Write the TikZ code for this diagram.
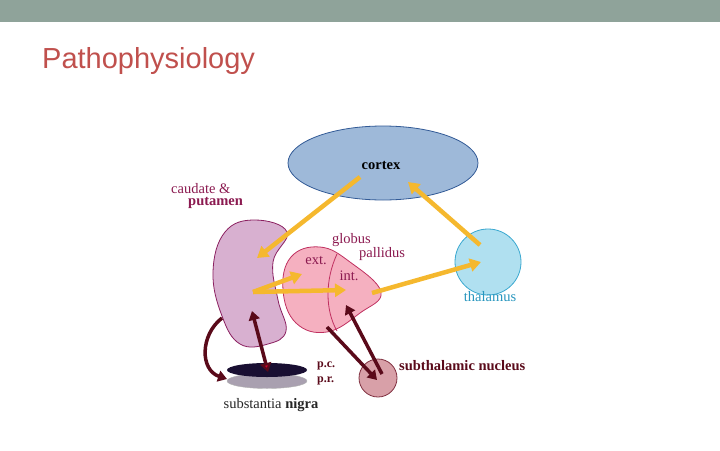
\documentclass[tikz,border=0pt]{standalone}
\usepackage{fontspec}
\setmainfont{Liberation Serif}
\newfontfamily\titlefont{Liberation Sans}
\usetikzlibrary{arrows.meta,shapes.geometric}
\definecolor{bar}{HTML}{8FA39A}
\definecolor{ttl}{HTML}{C0504D}
\definecolor{yel}{HTML}{F5B82E}
\definecolor{mar}{HTML}{5A0A1A}
\definecolor{lab}{HTML}{8B1A50}
\tikzset{
 ya/.style={draw=yel,line width=4.5pt,-{Triangle[length=11pt,width=13pt]}},
 ma/.style={draw=mar,line width=3.5pt,-{Triangle[length=9pt,width=11pt]}},
 lbl/.style={font=\bfseries\fontsize{14.5}{14.5}\selectfont,inner sep=0pt}
}
\begin{document}
\begin{tikzpicture}[x=1pt,y=-1pt]
\useasboundingbox (0,0) rectangle (720,450);
\fill[bar] (0,0) rectangle (720,22);
\node[anchor=west,text=ttl,font=\titlefont\fontsize{29}{29}\selectfont,inner sep=0pt] (title) at (42,61) {Pathophysiology};
% cortex
\node[ellipse,draw={rgb,255:red,50;green,90;blue,150},fill={rgb,255:red,158;green,185;blue,217},line width=0.8pt,minimum width=190pt,minimum height=74pt,inner sep=0pt] (cortex) at (383,163) {};
\node[lbl] (ctxt) at (381,165) {cortex};
% thalamus
\node[circle,draw={rgb,255:red,58;green,168;blue,208},fill={rgb,255:red,176;green,224;blue,240},line width=0.8pt,minimum size=66pt,inner sep=0pt] (thal) at (488,262) {};
\node[lbl,font=\fontsize{14.5}{14.5}\selectfont,text={rgb,255:red,40;green,150;blue,190}] (thaltxt) at (490,297) {thalamus};
% caudate
\draw[draw={rgb,255:red,139;green,32;blue,96},fill={rgb,255:red,216;green,176;blue,208},line width=0.8pt]
 plot[smooth cycle,tension=0.7] coordinates {(225,232) (255,220) (287,232) (273,262) (278,300) (286,331) (268,344) (240,344) (222,316) (213,272)};
\node[lbl,font=\fontsize{14.5}{14.5}\selectfont,text=lab,anchor=west] (cau1) at (171,189) {caudate \&};
\node[lbl,text=lab,anchor=west] (cau2) at (188,203) {putamen};
% globus pallidus
\draw[draw={rgb,255:red,192;green,48;blue,96},fill={rgb,255:red,245;green,176;blue,192},line width=0.8pt]
 plot[smooth cycle,tension=0.7] coordinates {(291,257) (320,247) (350,262) (381,292) (360,313) (327,332) (296,323) (283,290)};
\draw[draw={rgb,255:red,192;green,48;blue,96},line width=0.8pt] (337,254) .. controls (325,280) and (325,310) .. (337,331);
\node[lbl,font=\fontsize{14.5}{14.5}\selectfont,text=lab,anchor=west] (gp1) at (332,240) {globus};
\node[lbl,font=\fontsize{14.5}{14.5}\selectfont,text=lab,anchor=west] (gp2) at (359,254) {pallidus};
\node[lbl,font=\fontsize{14.5}{14.5}\selectfont,text=lab] (ext) at (316,261) {ext.};
\node[lbl,font=\fontsize{14.5}{14.5}\selectfont,text=lab] (int) at (349,276) {int.};
% substantia nigra
\node[ellipse,draw=gray!60,fill={rgb,255:red,169;green,160;blue,176},minimum width=80pt,minimum height=15pt,inner sep=0pt] (pr) at (267,381) {};
\node[ellipse,fill={rgb,255:red,25;green,15;blue,50},minimum width=80pt,minimum height=14pt,inner sep=0pt] (pc) at (267,370) {};
\node[lbl,anchor=west,text=mar,font=\bfseries\fontsize{12}{12}\selectfont] (pctxt) at (317,366) {p.c.};
\node[lbl,anchor=west,text=mar,font=\bfseries\fontsize{12}{12}\selectfont] (prtxt) at (317,381) {p.r.};
\node[lbl,font=\fontsize{14.5}{14.5}\selectfont,text=black!85] (sntxt) at (271,405) {substantia \textbf{nigra}};
% STN
\node[circle,draw={rgb,255:red,128;green,48;blue,64},fill={rgb,255:red,216;green,160;blue,168},line width=0.8pt,minimum size=38pt,inner sep=0pt] (stn) at (378,378) {};
\node[lbl,anchor=west,text=mar] (stntxt) at (399,366) {subthalamic nucleus};
% coordinates
\coordinate (cA) at (360,177);
\coordinate (cauIn) at (257,258);
\coordinate (thA) at (480,245);
\coordinate (cxIn) at (408,182);
\coordinate (cauO) at (253,292);
\coordinate (extIn) at (302,274);
\coordinate (intIn) at (346,290);
\coordinate (intO) at (372,293);
\coordinate (thIn) at (481,262);
\coordinate (cauB) at (222,318);
\coordinate (snL) at (227,379);
\coordinate (snC) at (268,372);
\coordinate (cauC) at (252,311);
\coordinate (gpB) at (327,327);
\coordinate (stnIn) at (377,380);
\coordinate (stnO) at (382,374);
\coordinate (intB) at (346,305);
% yellow arrows
\draw[ya] (cA) -- (cauIn);
\draw[ya] (thA) -- (cxIn);
\draw[ya] (cauO) -- (extIn);
\draw[ya] (cauO) -- (intIn);
\draw[ya] (intO) -- (thIn);
% maroon arrows
\draw[ma] (cauB) .. controls (200,335) and (200,370) .. (snL);
\draw[draw=mar,line width=3.5pt,{Triangle[length=9pt,width=11pt,fill=purple!70!red]}-{Triangle[length=9pt,width=11pt]}] (snC) -- (cauC);
\draw[ma] (gpB) -- (stnIn);
\draw[ma] (stnO) -- (intB);
\end{tikzpicture}
\end{document}
